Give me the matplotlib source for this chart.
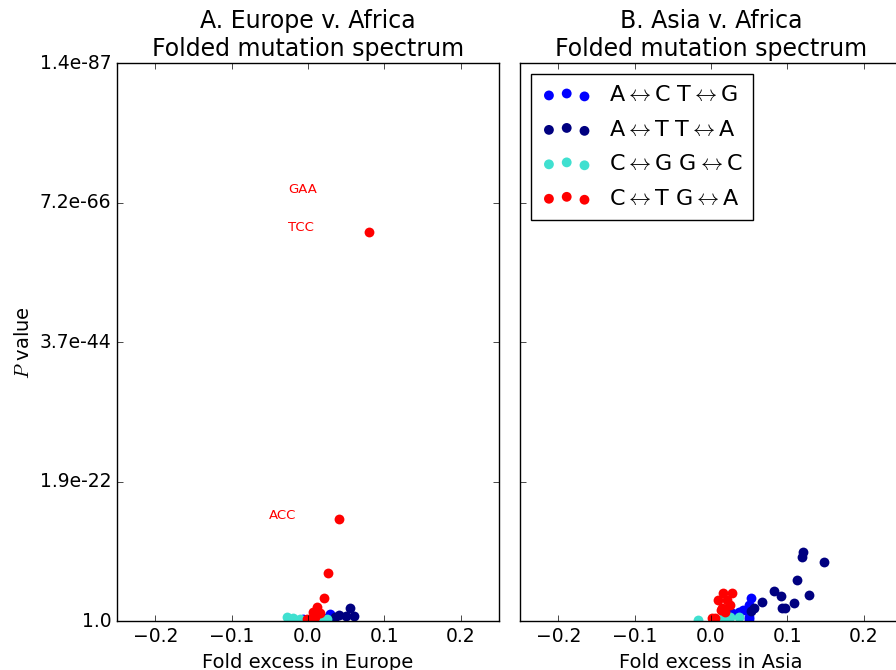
import numpy as np
import matplotlib.pyplot as plt

plt.style.use('classic')
plt.rcParams['figure.facecolor'] = 'white'
plt.rcParams['savefig.facecolor'] = 'white'
plt.rcParams['xtick.labelsize'] = 13.5
plt.rcParams['ytick.labelsize'] = 13.5
plt.rcParams['axes.labelsize'] = 14
plt.rcParams['axes.titlesize'] = 17
plt.rcParams['legend.fontsize'] = 16

# y is -ln(P); ticks labelled with the P value itself
y_ticks = [0, 50, 100, 150, 200]
y_ticklabels = ['1.0', '1.9e-22', '3.7e-44', '7.2e-66', '1.4e-87']

classes = ['A$\\leftrightarrow$C T$\\leftrightarrow$G',
           'A$\\leftrightarrow$T T$\\leftrightarrow$A',
           'C$\\leftrightarrow$G G$\\leftrightarrow$C',
           'C$\\leftrightarrow$T G$\\leftrightarrow$A']
colours = ['blue', 'navy', 'turquoise', 'red']

# Europe v. Africa: (fold excess, -ln P) per class
eur_blue_x = [0.0288, -0.006, 0.020]
eur_blue_y = [2.4, 0.6, 1.0]
eur_navy_x = [0.055, 0.0606, 0.0497, 0.041, 0.035]
eur_navy_y = [4.8, 1.8, 1.8, 2.1, 1.5]
eur_cyan_x = [-0.028, -0.019, -0.010, 0.0245, 0.018]
eur_cyan_y = [1.5, 1.0, 0.6, 0.6, 0.4]
eur_red_x = [0.080, 0.041, 0.0266, 0.0214, 0.0114, 0.006, 0.0157, 0.009, 0.0026, -0.0017]
eur_red_y = [139.4, 36.6, 17.1, 8.4, 4.9, 3.3, 2.8, 1.5, 0.6, 0.6]

# Asia v. Africa
asia_blue_x = [0.052, 0.050, 0.0475, 0.042, 0.036, 0.027, 0.050, 0.050]
asia_blue_y = [8.1, 5.7, 3.9, 3.9, 3.1, 2.8, 1.5, 0.8]
asia_navy_x = [0.1208, 0.1187, 0.148, 0.113, 0.128, 0.083, 0.091, 0.108,
               0.0925, 0.097, 0.067, 0.0567, 0.052]
asia_navy_y = [24.6, 23.0, 21.0, 14.6, 9.4, 10.8, 9.0, 6.6, 4.7, 4.7, 6.8, 4.5, 3.7]
asia_cyan_x = [-0.0166, 0.016, 0.025, 0.036, 0.020]
asia_cyan_y = [0.5, 1.0, 1.5, 1.5, 0.8]
asia_red_x = [0.016, 0.028, 0.0096, 0.0205, 0.025, 0.014, 0.013, 0.018, 0.005, 0.001]
asia_red_y = [9.9, 9.9, 7.5, 7.5, 5.7, 4.5, 3.9, 3.3, 1.2, 1.0]

# trinucleotide labels on the Europe panel
tri_names = ['GAA', 'TCC', 'ACC']
tri_x = [-0.0065, -0.009, -0.033]
tri_y = [154.5, 141.2, 38.0]

eur = [(eur_blue_x, eur_blue_y), (eur_navy_x, eur_navy_y),
       (eur_cyan_x, eur_cyan_y), (eur_red_x, eur_red_y)]
asia = [(asia_blue_x, asia_blue_y), (asia_navy_x, asia_navy_y),
        (asia_cyan_x, asia_cyan_y), (asia_red_x, asia_red_y)]

fig = plt.figure(figsize=(8.96, 6.70), dpi=100)
ax1 = fig.add_axes([0.1306, 0.0731, 0.4263, 0.8328])
ax2 = fig.add_axes([0.5804, 0.0731, 0.4263, 0.8328], sharey=ax1)

for ax, sets in [(ax1, eur), (ax2, asia)]:
    for (xs, ys), c, lab in zip(sets, colours, classes):
        ax.scatter(xs, ys, s=50, c=c, linewidths=0, label=lab)
    ax.set_xlim(-0.25, 0.25)
    ax.set_xticks([-0.2, -0.1, 0.0, 0.1, 0.2])

ax1.set_ylim(0, 200)
ax1.set_yticks(y_ticks)
ax1.set_yticklabels(y_ticklabels)
plt.setp(ax2.get_yticklabels(), visible=False)

for name, tx, ty in zip(tri_names, tri_x, tri_y):
    ax1.text(tx, ty, name, color='red', fontsize=9.5, ha='center', va='center')

ax1.set_title('A. Europe v. Africa\nFolded mutation spectrum')
ax2.set_title('B. Asia v. Africa\nFolded mutation spectrum')
ax1.set_xlabel('Fold excess in Europe')
ax2.set_xlabel('Fold excess in Asia')
ax1.set_ylabel('$P$ value')

ax2.legend(loc='upper left', scatterpoints=3, labelspacing=0.65,
           handlelength=2.2, borderpad=0.5)

fig.savefig('out.png', dpi=100)
